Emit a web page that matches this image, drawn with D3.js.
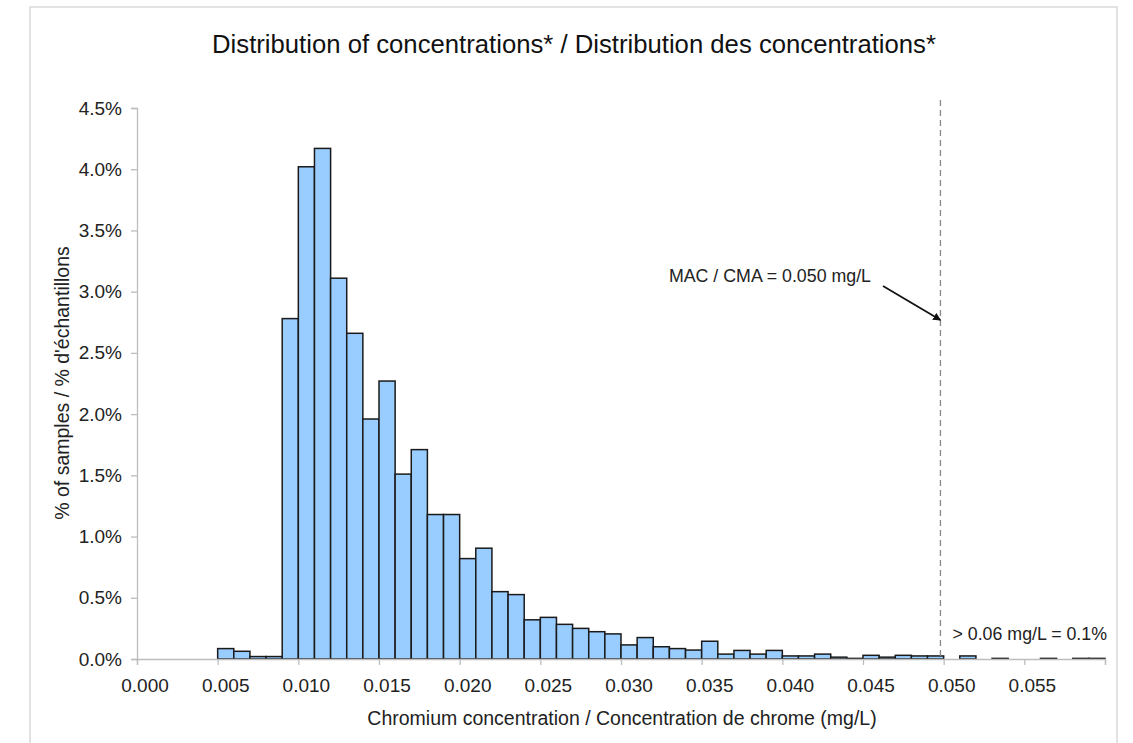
<!DOCTYPE html>
<html>
<head>
<meta charset="utf-8">
<script src="https://cdn.jsdelivr.net/npm/d3@7"></script>
<style>
  html, body { margin: 0; padding: 0; background: #fff; }
  svg { display: block; font-family: "Liberation Sans", Arial, Helvetica, sans-serif; }
</style>
</head>
<body>
<svg id="chart" width="1133" height="743"></svg>
<script>
// ---- data (bin start in mg/L, bin width 0.001 mg/L; % of samples) ----
const binStarts = [0.005,0.006,0.007,0.008,0.009,0.010,0.011,0.012,0.013,0.014,
  0.015,0.016,0.017,0.018,0.019,0.020,0.021,0.022,0.023,0.024,
  0.025,0.026,0.027,0.028,0.029,0.030,0.031,0.032,0.033,0.034,
  0.035,0.036,0.037,0.038,0.039,0.040,0.041,0.042,0.043,0.044,
  0.045,0.046,0.047,0.048,0.049,0.050,0.051,0.052,0.053,0.054,
  0.055,0.056,0.057,0.058,0.059];
const percentSamples = [0.085,0.063,0.02,0.02,2.78,4.02,4.17,3.11,2.66,1.96,
  2.27,1.51,1.71,1.18,1.18,0.82,0.905,0.55,0.526,0.32,
  0.34,0.283,0.25,0.223,0.205,0.115,0.175,0.1,0.085,0.073,
  0.145,0.04,0.07,0.04,0.07,0.025,0.025,0.04,0.015,0.005,
  0.03,0.015,0.03,0.025,0.025,0,0.025,0,0.005,0,
  0,0.005,0,0.005,0.005];
const binWidth = 0.001;
const xTicks = [0.000,0.005,0.010,0.015,0.020,0.025,0.030,0.035,0.040,0.045,0.050,0.055];
const yTicks = [0,0.5,1.0,1.5,2.0,2.5,3.0,3.5,4.0,4.5];
const macValue = 0.0498;
const titleText = "Distribution of concentrations* / Distribution des concentrations*";
const xTitle = "Chromium concentration / Concentration de chrome (mg/L)";
const yTitle = "% of samples / % d'échantillons";
const macLabel = "MAC / CMA = 0.050 mg/L";
const overLabel = "> 0.06 mg/L = 0.1%";

const data = binStarts.map((b, i) => ({ x0: b, x1: b + binWidth, v: percentSamples[i] }));

const svg = d3.select("#chart");
const plot = { left: 137, right: 1105, top: 108, bottom: 659 };

const x = d3.scaleLinear().domain([0, 0.060]).range([plot.left, plot.right]);
const y = d3.scaleLinear().domain([0, 4.5]).range([plot.bottom, plot.top]);

// outer frame
svg.append("rect")
  .attr("x", 30).attr("y", 7).attr("width", 1087).attr("height", 760)
  .attr("fill", "none").attr("stroke", "#d9d9d9").attr("stroke-width", 1.5);

// title
svg.append("text")
  .attr("x", 574).attr("y", 53)
  .attr("text-anchor", "middle")
  .attr("font-size", 25.7).attr("fill", "#111")
  .text(titleText);

// bars
svg.append("g").selectAll("rect")
  .data(data.filter(d => d.v > 0))
  .join("rect")
  .attr("x", d => x(d.x0))
  .attr("y", d => y(d.v))
  .attr("width", d => x(d.x1) - x(d.x0))
  .attr("height", d => y(0) - y(d.v))
  .attr("fill", "#99ccff")
  .attr("stroke", "#1a1a1a")
  .attr("stroke-width", 1.5);

// y axis
const yAxis = d3.axisLeft(y).tickValues(yTicks).tickSize(6).tickPadding(9)
  .tickFormat(d => d3.format(".1f")(d) + "%");
const gy = svg.append("g").attr("transform", `translate(${plot.left},0)`).call(yAxis);
gy.select(".domain").attr("stroke", "#bdbdbd").attr("stroke-width", 1.3);
gy.selectAll(".tick line").attr("stroke", "#bdbdbd").attr("stroke-width", 1.3);
gy.selectAll(".tick text").attr("font-size", 19).attr("fill", "#222")
  .attr("font-family", "Liberation Sans, Arial, sans-serif");

// x axis
const xAxis = d3.axisBottom(x).tickValues(xTicks.concat([0.060])).tickSize(6).tickPadding(14)
  .tickFormat((d, i) => i < xTicks.length ? d3.format(".3f")(d) : "");
const gx = svg.append("g").attr("transform", `translate(0,${plot.bottom})`).call(xAxis);
gx.select(".domain").attr("stroke", "#bdbdbd").attr("stroke-width", 1.3);
gx.selectAll(".tick line").attr("stroke", "#bdbdbd").attr("stroke-width", 1.3);
gx.selectAll(".tick text").attr("font-size", 19).attr("fill", "#222").attr("dx", 7.5)
  .attr("font-family", "Liberation Sans, Arial, sans-serif");

// axis titles
svg.append("text")
  .attr("x", 622).attr("y", 725)
  .attr("text-anchor", "middle").attr("font-size", 19.5).attr("fill", "#222")
  .text(xTitle);
svg.append("text")
  .attr("transform", `translate(69,383) rotate(-90)`)
  .attr("text-anchor", "middle").attr("font-size", 19.5).attr("fill", "#222")
  .text(yTitle);

// MAC dashed line
svg.append("line")
  .attr("x1", x(macValue)).attr("x2", x(macValue))
  .attr("y1", 100).attr("y2", plot.bottom)
  .attr("stroke", "#888").attr("stroke-width", 1.3)
  .attr("stroke-dasharray", "6,4");

// arrow
svg.append("defs").append("marker")
  .attr("id", "arrow").attr("viewBox", "0 0 10 10")
  .attr("refX", 9).attr("refY", 5)
  .attr("markerWidth", 8).attr("markerHeight", 8)
  .attr("markerUnits", "userSpaceOnUse")
  .attr("orient", "auto")
  .append("path").attr("d", "M0,0 L10,5 L0,10 z").attr("fill", "#111");
svg.append("line")
  .attr("x1", 883).attr("y1", 286)
  .attr("x2", x(macValue)).attr("y2", 320)
  .attr("stroke", "#111").attr("stroke-width", 1.7)
  .attr("marker-end", "url(#arrow)");

svg.append("text")
  .attr("x", 871).attr("y", 282)
  .attr("text-anchor", "end").attr("font-size", 17.8).attr("fill", "#222")
  .text(macLabel);

svg.append("text")
  .attr("x", 1107).attr("y", 640)
  .attr("text-anchor", "end").attr("font-size", 17.8).attr("fill", "#222")
  .text(overLabel);
</script>
</body>
</html>
